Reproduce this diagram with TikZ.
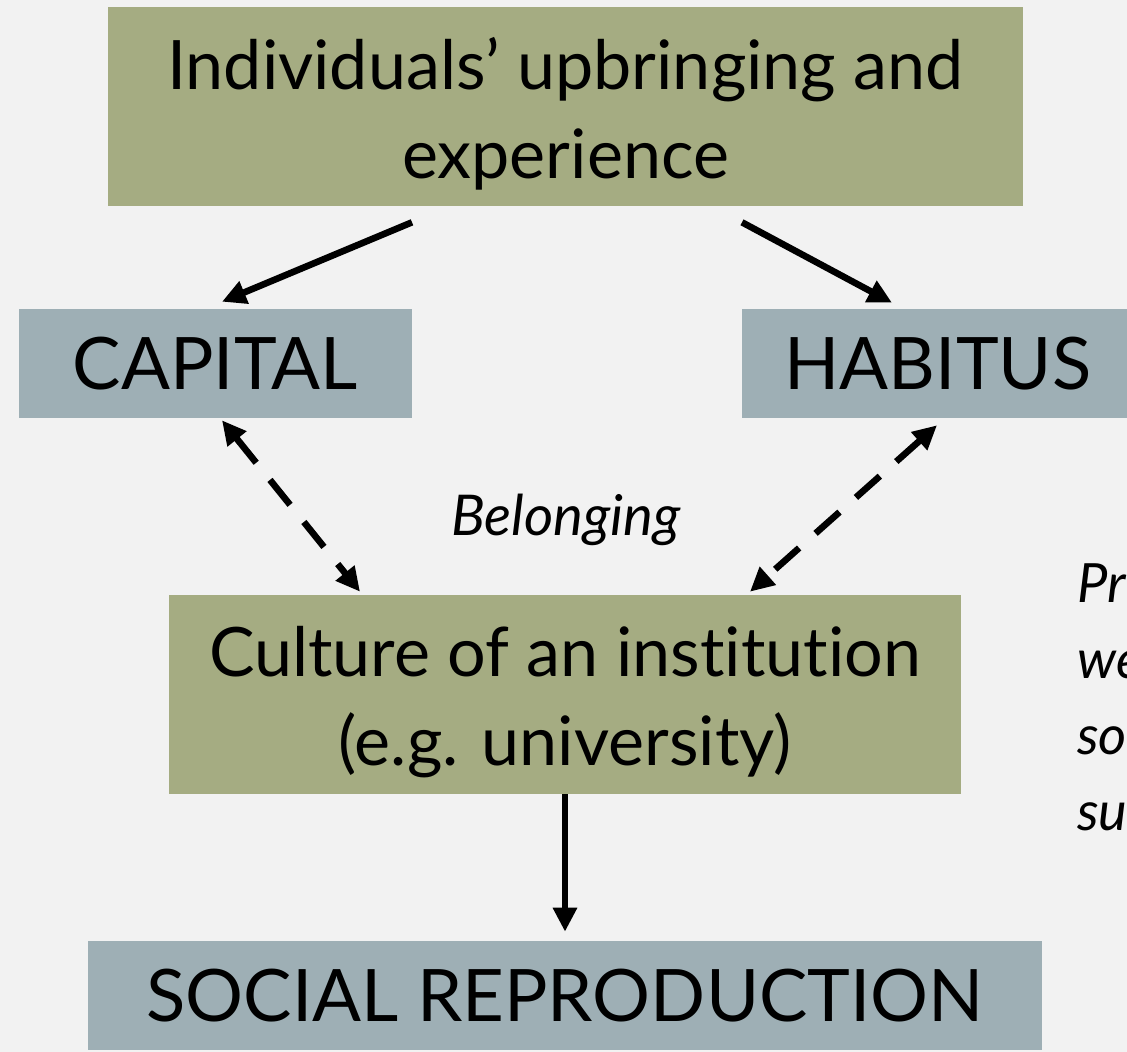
\documentclass[tikz,border=0pt]{standalone}
\usepackage{fontspec}
\setmainfont{Lato}[Ligatures=NoCommon]
\usetikzlibrary{arrows.meta,positioning}
\definecolor{olivebox}{HTML}{A5AC82}
\definecolor{slatebox}{HTML}{9EAFB5}
\definecolor{pagebg}{HTML}{F2F2F2}
\tikzset{
    box/.style={inner sep=0pt, align=center, text=black},
    olive/.style={box, fill=olivebox, minimum height=4.975cm, text depth=0pt, font=\fontsize{48.5}{63}\selectfont},
    slate/.style={box, fill=slatebox, minimum height=2.725cm, font=\fontsize{51.5}{59}\selectfont},
    arr/.style={line width=0.165cm, -{Triangle[length=0.6cm,width=0.575cm]}},
    darr/.style={arr, {Triangle[length=0.6cm,width=0.575cm]}-{Triangle[length=0.6cm,width=0.575cm]}, dash pattern=on 0.8cm off 0.55cm},
}
\begin{document}
\begin{tikzpicture}[x=0.025cm,y=-0.025cm]
        \fill[pagebg] (0,0) rectangle (1127,1052);
        \clip (0,0) rectangle (1127,1052);
        \node[olive, minimum width=22.875cm, text height=3.575cm] (upbringing) at (565.5,106.5) {Individuals’ upbringing and\\experience};
        \node[slate, minimum width=9.825cm] (capital) at (215.5,363.5) {CAPITAL};
        \node[slate, minimum width=9.8cm] (habitus) at (938,363.5) {HABITUS};
        \node[olive, minimum width=19.8cm, text height=3.525cm] (culture) at (565,694.5) {Culture of an institution\\(e.g. university)};
        \node[slate, minimum width=23.85cm] (social) at (565,995.5) {SOCIAL REPRODUCTION};
        \node[box, anchor=base, font=\itshape\fontsize{40}{44}\selectfont] (belonging) at (566,535) {Belonging};
        \node[box, anchor=base west, align=left, font=\itshape\fontsize{38.5}{54}\selectfont] (note) at (1077,830) {Pr\\we\\so\\su};
        % solid arrows down from the top box, dashed ones both ways
        \draw[arr] ([shift={(-153.5,16)}]upbringing.south) -- ([shift={(6.5,-7)}]capital.north);
        \draw[arr] ([shift={(176.5,16)}]upbringing.south) -- ([shift={(-46,-6)}]habitus.north);
        \draw[darr] ([shift={(6.5,2)}]capital.south) -- ([shift={(-205,-3)}]culture.north);
        \draw[darr] ([shift={(-1,7)}]habitus.south) -- ([shift={(185,-3)}]culture.north);
        \draw[arr, shorten >=0.225cm] (culture) -- (social);
\end{tikzpicture}
\end{document}
